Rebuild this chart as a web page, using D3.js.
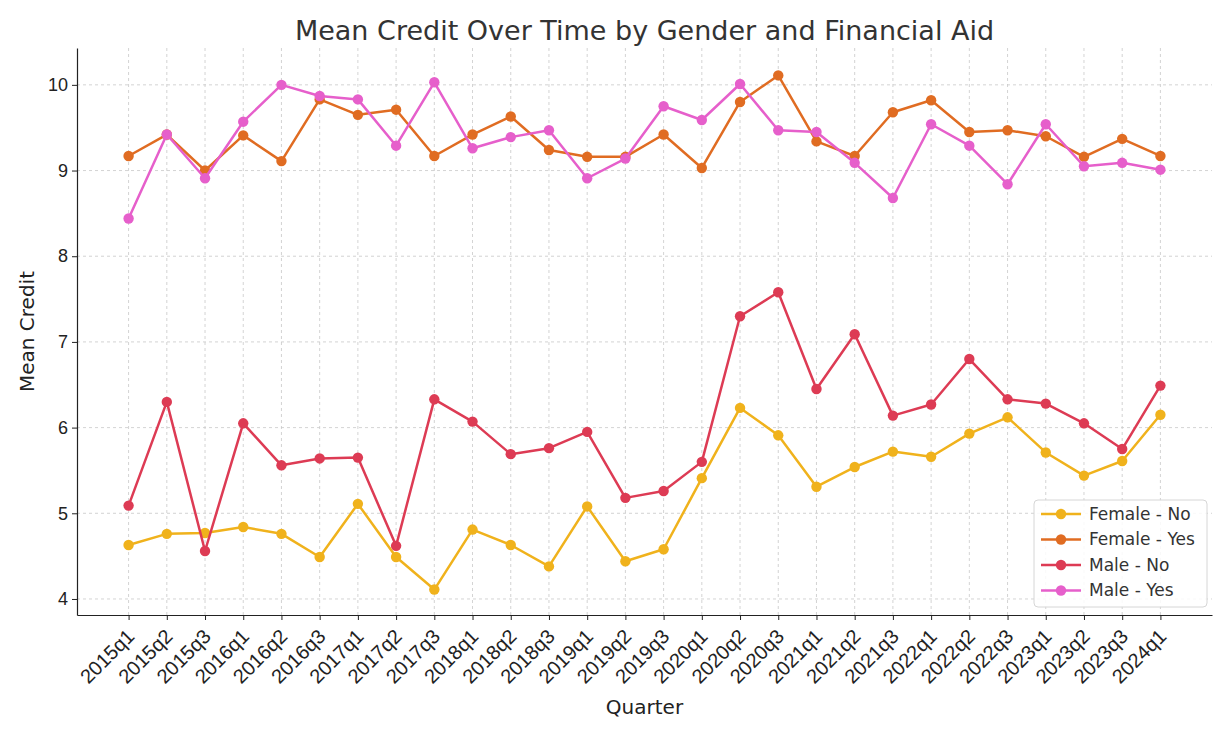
<!DOCTYPE html>
<html>
<head>
<meta charset="utf-8">
<script src="https://cdn.jsdelivr.net/npm/d3@7"></script>
<style>
  body { margin: 0; background: #fff; }
  svg { font-family: "DejaVu Sans", sans-serif; }
</style>
</head>
<body>
<div id="chart"></div>
<script>
var quarters = ["2015q1","2015q2","2015q3","2016q1","2016q2","2016q3","2017q1","2017q2","2017q3",
  "2018q1","2018q2","2018q3","2019q1","2019q2","2019q3","2020q1","2020q2","2020q3",
  "2021q1","2021q2","2021q3","2022q1","2022q2","2022q3","2023q1","2023q2","2023q3","2024q1"];

var femaleNo  = [4.63,4.76,4.77,4.84,4.76,4.49,5.11,4.49,4.11,4.81,4.63,4.38,5.08,4.44,4.58,5.41,6.23,5.91,5.31,5.54,5.72,5.66,5.93,6.12,5.71,5.44,5.61,6.15];
var femaleYes = [9.17,9.42,9.00,9.41,9.11,9.83,9.65,9.71,9.17,9.42,9.63,9.24,9.16,9.16,9.42,9.03,9.80,10.11,9.34,9.17,9.68,9.82,9.45,9.47,9.40,9.16,9.37,9.17];
var maleNo    = [5.09,6.30,4.56,6.05,5.56,5.64,5.65,4.62,6.33,6.07,5.69,5.76,5.95,5.18,5.26,5.60,7.30,7.58,6.45,7.09,6.14,6.27,6.80,6.33,6.28,6.05,5.75,6.49];
var maleYes   = [8.44,9.42,8.91,9.57,10.00,9.87,9.83,9.29,10.03,9.26,9.39,9.47,8.91,9.14,9.75,9.59,10.01,9.47,9.45,9.09,8.68,9.54,9.29,8.84,9.54,9.05,9.09,9.01];

var seriesNames = ["Female - No", "Female - Yes", "Male - No", "Male - Yes"];
var yTicks = [4, 5, 6, 7, 8, 9, 10];

var series = [
  {name: seriesNames[0], values: femaleNo,  color: "#f0b21c"},
  {name: seriesNames[1], values: femaleYes, color: "#e06c22"},
  {name: seriesNames[2], values: maleNo,    color: "#dd3b54"},
  {name: seriesNames[3], values: maleYes,   color: "#e65fcb"}
];

var width = 1229, height = 737;
var mLeft = 77, mRight = 1212, mTop = 48, mBottom = 615;

var svg = d3.select("#chart").append("svg")
  .attr("width", width)
  .attr("height", height);

// categorical axis with matplotlib-like 5% padding
var n = quarters.length;
var pad = (n - 1) * 0.05;
var x = d3.scaleLinear()
  .domain([-pad, n - 1 + pad])
  .range([mLeft, mRight]);

var y = d3.scaleLinear()
  .domain([3.813, 10.43])
  .range([mBottom, mTop]);

// grid
var grid = svg.append("g");
grid.selectAll(".vg").data(quarters).enter().append("line")
  .attr("x1", (d, i) => x(i)).attr("x2", (d, i) => x(i))
  .attr("y1", mTop).attr("y2", mBottom)
  .attr("stroke", "#c8c8c8").attr("stroke-width", 0.8)
  .attr("stroke-dasharray", "3,3");
grid.selectAll(".hg").data(yTicks).enter().append("line")
  .attr("x1", mLeft).attr("x2", mRight)
  .attr("y1", d => y(d)).attr("y2", d => y(d))
  .attr("stroke", "#c8c8c8").attr("stroke-width", 0.8)
  .attr("stroke-dasharray", "3,3");

// axes
var xAxis = svg.append("g")
  .attr("transform", "translate(0," + mBottom + ")")
  .call(d3.axisBottom(x)
    .tickValues(d3.range(n))
    .tickFormat(i => quarters[i])
    .tickSize(5)
    .tickSizeOuter(0));
xAxis.select(".domain").attr("stroke", "#222").attr("stroke-width", 1.2);
xAxis.selectAll(".tick line").attr("stroke", "#222");
xAxis.selectAll(".tick text")
  .attr("font-size", 20)
  .attr("fill", "#222")
  .attr("text-anchor", "end")
  .attr("x", 0).attr("y", 0)
  .attr("dy", "0.75em")
  .attr("transform", "translate(-4,12) rotate(-45)");

var yAxis = svg.append("g")
  .attr("transform", "translate(" + mLeft + ",0)")
  .call(d3.axisLeft(y)
    .tickValues(yTicks)
    .tickFormat(d3.format("d"))
    .tickSize(5)
    .tickSizeOuter(0));
yAxis.select(".domain").attr("stroke", "#222").attr("stroke-width", 1.2);
yAxis.selectAll(".tick line").attr("stroke", "#222");
yAxis.selectAll(".tick text")
  .attr("font-size", 18)
  .attr("fill", "#222")
  .attr("x", -9);

// lines + markers
var line = d3.line()
  .x((d, i) => x(i))
  .y(d => y(d));

series.forEach(s => {
  svg.append("path")
    .datum(s.values)
    .attr("fill", "none")
    .attr("stroke", s.color)
    .attr("stroke-width", 2.5)
    .attr("stroke-linejoin", "round")
    .attr("d", line);

  svg.append("g").selectAll("circle")
    .data(s.values).enter().append("circle")
    .attr("cx", (d, i) => x(i))
    .attr("cy", d => y(d))
    .attr("r", 5.2)
    .attr("fill", s.color);
});

// title and labels
svg.append("text")
  .attr("x", (mLeft + mRight) / 2).attr("y", 40)
  .attr("text-anchor", "middle")
  .attr("font-size", 27)
  .attr("fill", "#333")
  .text("Mean Credit Over Time by Gender and Financial Aid");

svg.append("text")
  .attr("x", (mLeft + mRight) / 2).attr("y", 714)
  .attr("text-anchor", "middle")
  .attr("font-size", 20)
  .attr("fill", "#222")
  .text("Quarter");

svg.append("text")
  .attr("transform", "translate(34," + ((mTop + mBottom) / 2) + ") rotate(-90)")
  .attr("text-anchor", "middle")
  .attr("font-size", 20)
  .attr("fill", "#222")
  .text("Mean Credit");

// legend
var lg = svg.append("g").attr("transform", "translate(1034,500)");
lg.append("rect")
  .attr("width", 173).attr("height", 107)
  .attr("rx", 4)
  .attr("fill", "#fff").attr("fill-opacity", 0.85)
  .attr("stroke", "#d6d6d6");
var items = lg.selectAll(".item").data(series).enter().append("g")
  .attr("transform", (d, i) => "translate(0," + (14 + i * 25.5) + ")");
items.append("line")
  .attr("x1", 7).attr("x2", 47)
  .attr("stroke", d => d.color).attr("stroke-width", 2.5);
items.append("circle")
  .attr("cx", 27).attr("r", 5.2)
  .attr("fill", d => d.color);
items.append("text")
  .attr("x", 55).attr("dy", "0.35em")
  .attr("font-size", 17)
  .attr("fill", "#333")
  .text(d => d.name);
</script>
</body>
</html>
